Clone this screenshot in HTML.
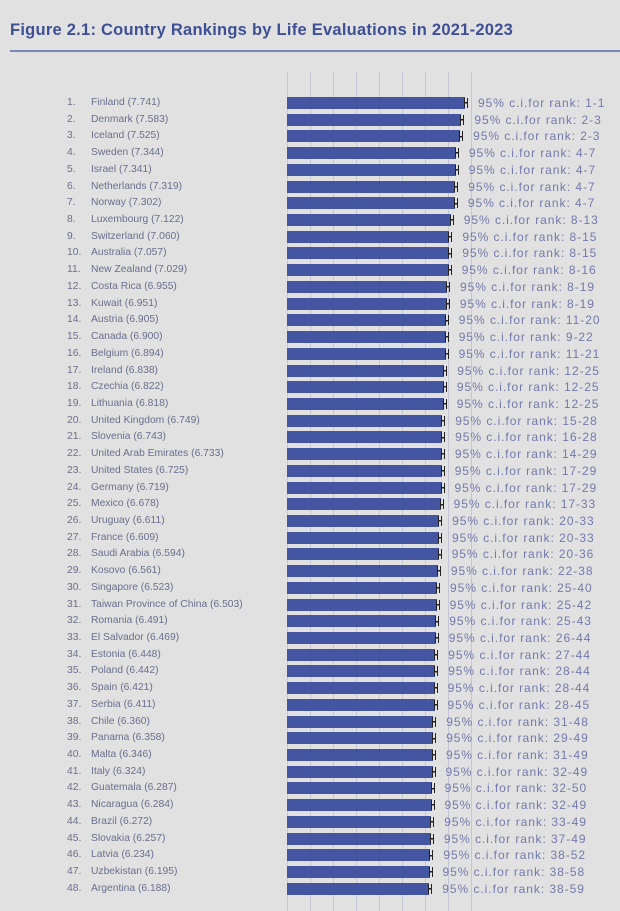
<!DOCTYPE html>
<html><head><meta charset="utf-8"><style>
body{margin:0;width:620px;height:911px;background:#e1e1e1;position:relative;overflow:hidden;font-family:"Liberation Sans",sans-serif}
h1{position:absolute;left:10px;top:21px;margin:0;font-size:16.5px;font-weight:bold;color:#3f4f96;letter-spacing:0.25px}
.rule{position:absolute;left:10px;right:0;top:50px;height:2px;background:#7d86b8}
.g{position:absolute;top:72px;bottom:0;width:1px;background:#c4c6d6}
#rows{position:absolute;top:96px;left:0;width:620px}
.r{position:relative;height:16.72px;font-size:10.3px;color:#6c7088}
.r i{position:absolute;left:67px;top:1px;font-style:normal}
.r b{position:absolute;left:91px;top:1px;font-weight:normal;color:#6a6f8c}
.r s{position:absolute;left:287px;top:1px;height:12px;width:var(--w);background:#4456a2}
.r s::after{content:"";position:absolute;right:-3px;top:1px;width:4px;height:10px;border-left:1.5px solid #222;border-right:1.5px solid #222;box-sizing:border-box;background:linear-gradient(#222,#222) center/100% 1.5px no-repeat}
.r u{position:absolute;left:calc(300px + var(--w));top:0px;text-decoration:none;color:#737aaa;font-size:12px;letter-spacing:0.95px}
</style></head><body>
<h1>Figure 2.1: Country Rankings by Life Evaluations in 2021-2023</h1>
<div class="rule"></div>
<div class="g" style="left:287px"></div><div class="g" style="left:310px"></div><div class="g" style="left:333px"></div><div class="g" style="left:356px"></div><div class="g" style="left:379px"></div><div class="g" style="left:402px"></div><div class="g" style="left:425px"></div><div class="g" style="left:448px"></div><div class="g" style="left:471px"></div>
<div id="rows">
<div class="r" style="--w:178px"><i>1.</i><b>Finland (7.741)</b><s></s><u>95% c.i.for rank: 1-1</u></div>
<div class="r" style="--w:174.4px"><i>2.</i><b>Denmark (7.583)</b><s></s><u>95% c.i.for rank: 2-3</u></div>
<div class="r" style="--w:173.1px"><i>3.</i><b>Iceland (7.525)</b><s></s><u>95% c.i.for rank: 2-3</u></div>
<div class="r" style="--w:168.9px"><i>4.</i><b>Sweden (7.344)</b><s></s><u>95% c.i.for rank: 4-7</u></div>
<div class="r" style="--w:168.8px"><i>5.</i><b>Israel (7.341)</b><s></s><u>95% c.i.for rank: 4-7</u></div>
<div class="r" style="--w:168.3px"><i>6.</i><b>Netherlands (7.319)</b><s></s><u>95% c.i.for rank: 4-7</u></div>
<div class="r" style="--w:167.9px"><i>7.</i><b>Norway (7.302)</b><s></s><u>95% c.i.for rank: 4-7</u></div>
<div class="r" style="--w:163.8px"><i>8.</i><b>Luxembourg (7.122)</b><s></s><u>95% c.i.for rank: 8-13</u></div>
<div class="r" style="--w:162.4px"><i>9.</i><b>Switzerland (7.060)</b><s></s><u>95% c.i.for rank: 8-15</u></div>
<div class="r" style="--w:162.3px"><i>10.</i><b>Australia (7.057)</b><s></s><u>95% c.i.for rank: 8-15</u></div>
<div class="r" style="--w:161.7px"><i>11.</i><b>New Zealand (7.029)</b><s></s><u>95% c.i.for rank: 8-16</u></div>
<div class="r" style="--w:160px"><i>12.</i><b>Costa Rica (6.955)</b><s></s><u>95% c.i.for rank: 8-19</u></div>
<div class="r" style="--w:159.9px"><i>13.</i><b>Kuwait (6.951)</b><s></s><u>95% c.i.for rank: 8-19</u></div>
<div class="r" style="--w:158.8px"><i>14.</i><b>Austria (6.905)</b><s></s><u>95% c.i.for rank: 11-20</u></div>
<div class="r" style="--w:158.7px"><i>15.</i><b>Canada (6.900)</b><s></s><u>95% c.i.for rank: 9-22</u></div>
<div class="r" style="--w:158.6px"><i>16.</i><b>Belgium (6.894)</b><s></s><u>95% c.i.for rank: 11-21</u></div>
<div class="r" style="--w:157.3px"><i>17.</i><b>Ireland (6.838)</b><s></s><u>95% c.i.for rank: 12-25</u></div>
<div class="r" style="--w:156.9px"><i>18.</i><b>Czechia (6.822)</b><s></s><u>95% c.i.for rank: 12-25</u></div>
<div class="r" style="--w:156.8px"><i>19.</i><b>Lithuania (6.818)</b><s></s><u>95% c.i.for rank: 12-25</u></div>
<div class="r" style="--w:155.2px"><i>20.</i><b>United Kingdom (6.749)</b><s></s><u>95% c.i.for rank: 15-28</u></div>
<div class="r" style="--w:155.1px"><i>21.</i><b>Slovenia (6.743)</b><s></s><u>95% c.i.for rank: 16-28</u></div>
<div class="r" style="--w:154.9px"><i>22.</i><b>United Arab Emirates (6.733)</b><s></s><u>95% c.i.for rank: 14-29</u></div>
<div class="r" style="--w:154.7px"><i>23.</i><b>United States (6.725)</b><s></s><u>95% c.i.for rank: 17-29</u></div>
<div class="r" style="--w:154.5px"><i>24.</i><b>Germany (6.719)</b><s></s><u>95% c.i.for rank: 17-29</u></div>
<div class="r" style="--w:153.6px"><i>25.</i><b>Mexico (6.678)</b><s></s><u>95% c.i.for rank: 17-33</u></div>
<div class="r" style="--w:152.1px"><i>26.</i><b>Uruguay (6.611)</b><s></s><u>95% c.i.for rank: 20-33</u></div>
<div class="r" style="--w:152px"><i>27.</i><b>France (6.609)</b><s></s><u>95% c.i.for rank: 20-33</u></div>
<div class="r" style="--w:151.7px"><i>28.</i><b>Saudi Arabia (6.594)</b><s></s><u>95% c.i.for rank: 20-36</u></div>
<div class="r" style="--w:150.9px"><i>29.</i><b>Kosovo (6.561)</b><s></s><u>95% c.i.for rank: 22-38</u></div>
<div class="r" style="--w:150px"><i>30.</i><b>Singapore (6.523)</b><s></s><u>95% c.i.for rank: 25-40</u></div>
<div class="r" style="--w:149.6px"><i>31.</i><b>Taiwan Province of China (6.503)</b><s></s><u>95% c.i.for rank: 25-42</u></div>
<div class="r" style="--w:149.3px"><i>32.</i><b>Romania (6.491)</b><s></s><u>95% c.i.for rank: 25-43</u></div>
<div class="r" style="--w:148.8px"><i>33.</i><b>El Salvador (6.469)</b><s></s><u>95% c.i.for rank: 26-44</u></div>
<div class="r" style="--w:148.3px"><i>34.</i><b>Estonia (6.448)</b><s></s><u>95% c.i.for rank: 27-44</u></div>
<div class="r" style="--w:148.2px"><i>35.</i><b>Poland (6.442)</b><s></s><u>95% c.i.for rank: 28-44</u></div>
<div class="r" style="--w:147.7px"><i>36.</i><b>Spain (6.421)</b><s></s><u>95% c.i.for rank: 28-44</u></div>
<div class="r" style="--w:147.5px"><i>37.</i><b>Serbia (6.411)</b><s></s><u>95% c.i.for rank: 28-45</u></div>
<div class="r" style="--w:146.3px"><i>38.</i><b>Chile (6.360)</b><s></s><u>95% c.i.for rank: 31-48</u></div>
<div class="r" style="--w:146.2px"><i>39.</i><b>Panama (6.358)</b><s></s><u>95% c.i.for rank: 29-49</u></div>
<div class="r" style="--w:146px"><i>40.</i><b>Malta (6.346)</b><s></s><u>95% c.i.for rank: 31-49</u></div>
<div class="r" style="--w:145.5px"><i>41.</i><b>Italy (6.324)</b><s></s><u>95% c.i.for rank: 32-49</u></div>
<div class="r" style="--w:144.6px"><i>42.</i><b>Guatemala (6.287)</b><s></s><u>95% c.i.for rank: 32-50</u></div>
<div class="r" style="--w:144.5px"><i>43.</i><b>Nicaragua (6.284)</b><s></s><u>95% c.i.for rank: 32-49</u></div>
<div class="r" style="--w:144.3px"><i>44.</i><b>Brazil (6.272)</b><s></s><u>95% c.i.for rank: 33-49</u></div>
<div class="r" style="--w:143.9px"><i>45.</i><b>Slovakia (6.257)</b><s></s><u>95% c.i.for rank: 37-49</u></div>
<div class="r" style="--w:143.4px"><i>46.</i><b>Latvia (6.234)</b><s></s><u>95% c.i.for rank: 38-52</u></div>
<div class="r" style="--w:142.5px"><i>47.</i><b>Uzbekistan (6.195)</b><s></s><u>95% c.i.for rank: 38-58</u></div>
<div class="r" style="--w:142.3px"><i>48.</i><b>Argentina (6.188)</b><s></s><u>95% c.i.for rank: 38-59</u></div>
</div>
</body></html>
